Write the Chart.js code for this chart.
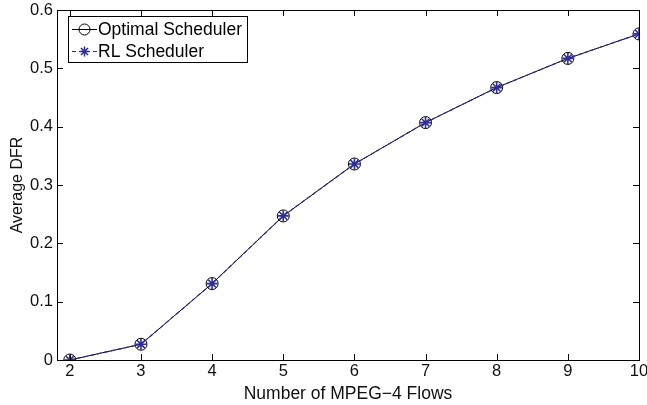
<!DOCTYPE html>
<html>
<head>
<meta charset="utf-8">
<script src="https://cdn.jsdelivr.net/npm/chart.js@4/dist/chart.umd.min.js"></script>
<style>
  html, body { margin: 0; padding: 0; background: #fff; }
  #wrap { width: 647px; height: 405px; }
</style>
</head>
<body>
<div id="wrap"><canvas id="dfrChart" width="647" height="405"></canvas></div>
<script>
// flows on the x axis
var flows = [2, 3, 4, 5, 6, 7, 8, 9, 10];
// average DFR
var optimalDfr = [0, 0.027, 0.131, 0.247, 0.336, 0.407, 0.467, 0.517, 0.559];
var rlDfr = [0, 0.027, 0.131, 0.247, 0.336, 0.407, 0.467, 0.517, 0.559];
var xTicks = [2, 3, 4, 5, 6, 7, 8, 9, 10];
var yTicks = [0, 0.1, 0.2, 0.3, 0.4, 0.5, 0.6];
var seriesNames = ['Optimal Scheduler', 'RL Scheduler'];

var FONT = '"Liberation Sans", Arial, Helvetica, sans-serif';
var BLUE = '#2b2e98';

function toPoints(xs, ys) {
  return xs.map(function (x, i) { return { x: x, y: ys[i] }; });
}

// matlab style box with ticks pointing inwards
var boxTicks = {
  id: 'boxTicks',
  afterDraw: function (chart) {
    var ctx = chart.ctx;
    var a = chart.chartArea;
    var xs = chart.scales.x;
    var ys = chart.scales.y;
    var len = 6;
    ctx.save();
    ctx.strokeStyle = '#000';
    ctx.lineWidth = 1;
    ctx.beginPath();
    xTicks.forEach(function (v) {
      var px = Math.round(xs.getPixelForValue(v)) + 0.5;
      ctx.moveTo(px, a.bottom); ctx.lineTo(px, a.bottom - len);
      ctx.moveTo(px, a.top); ctx.lineTo(px, a.top + len);
    });
    yTicks.forEach(function (v) {
      var py = Math.round(ys.getPixelForValue(v)) + 0.5;
      ctx.moveTo(a.left, py); ctx.lineTo(a.left + len, py);
      ctx.moveTo(a.right, py); ctx.lineTo(a.right - len, py);
    });
    ctx.stroke();
    ctx.strokeRect(Math.round(a.left) + 0.5, Math.round(a.top) + 0.5,
      Math.round(a.right - a.left), Math.round(a.bottom - a.top));
    ctx.restore();
  }
};

// legend box in the top left corner, line + marker samples
var boxLegend = {
  id: 'boxLegend',
  afterDraw: function (chart) {
    var ctx = chart.ctx;
    var a = chart.chartArea;
    var x0 = a.left + 11;
    var y0 = a.top + 6;
    var w = 179;
    var h = 46;
    ctx.save();
    ctx.fillStyle = '#fff';
    ctx.fillRect(x0, y0, w, h);
    ctx.strokeStyle = '#000';
    ctx.lineWidth = 1;
    ctx.strokeRect(x0 + 0.5, y0 + 0.5, w, h);
    ctx.font = '17.5px ' + FONT;
    ctx.textBaseline = 'middle';
    ctx.fillStyle = '#000';

    var rows = [y0 + 13.5, y0 + 35.5];
    var lx1 = x0 + 4, lx2 = x0 + 29, mx = x0 + 16.5;

    // optimal: solid black line with open circle
    ctx.beginPath();
    ctx.moveTo(lx1, rows[0]); ctx.lineTo(lx2, rows[0]);
    ctx.stroke();
    ctx.beginPath();
    ctx.arc(mx, rows[0], 5.5, 0, Math.PI * 2);
    ctx.stroke();
    ctx.fillText(seriesNames[0], x0 + 30, rows[0] + 1);

    // rl: dashed blue line with star
    ctx.strokeStyle = BLUE;
    ctx.setLineDash([4, 3]);
    ctx.beginPath();
    ctx.moveTo(lx1, rows[1]); ctx.lineTo(lx2, rows[1]);
    ctx.stroke();
    ctx.setLineDash([]);
    ctx.lineWidth = 1.5;
    ctx.beginPath();
    for (var k = 0; k < 4; k++) {
      var ang = k * Math.PI / 4;
      ctx.moveTo(mx - 5 * Math.cos(ang), rows[1] - 5 * Math.sin(ang));
      ctx.lineTo(mx + 5 * Math.cos(ang), rows[1] + 5 * Math.sin(ang));
    }
    ctx.stroke();
    ctx.fillStyle = '#000';
    ctx.fillText(seriesNames[1], x0 + 30, rows[1] + 1);
    ctx.restore();
  }
};

Chart.defaults.font.family = FONT;
Chart.defaults.font.size = 16.5;
Chart.defaults.color = '#111';

new Chart(document.getElementById('dfrChart').getContext('2d'), {
  type: 'line',
  data: {
    datasets: [
      {
        label: seriesNames[1],
        data: toPoints(flows, rlDfr),
        borderColor: BLUE,
        backgroundColor: BLUE,
        borderWidth: 1.2,
        borderDash: [4, 3],
        pointStyle: 'star',
        pointRadius: 5.5,
        pointBorderWidth: 1.6,
        pointBorderColor: BLUE,
        tension: 0,
        order: 1
      },
      {
        label: seriesNames[0],
        data: toPoints(flows, optimalDfr),
        borderColor: '#000',
        borderWidth: 1,
        pointStyle: 'circle',
        pointRadius: 6,
        pointBorderWidth: 1,
        pointBorderColor: '#000',
        pointBackgroundColor: 'rgba(255,255,255,0)',
        tension: 0,
        order: 2
      }
    ]
  },
  options: {
    responsive: false,
    animation: false,
    events: [],
    layout: { padding: { top: 10, right: 8, left: 0, bottom: 0 } },
    plugins: {
      legend: { display: false },
      tooltip: { enabled: false }
    },
    scales: {
      x: {
        type: 'linear',
        min: 1.82,
        max: 10,
        grid: { display: false, drawTicks: false },
        border: { display: false },
        afterBuildTicks: function (scale) {
          scale.ticks = xTicks.map(function (v) { return { value: v }; });
        },
        afterFit: function (scale) {
          scale.height = 45;
          scale.paddingLeft = 0;
          scale.paddingRight = 0;
        },
        ticks: {
          padding: 2,
          maxRotation: 0,
          autoSkip: false,
          callback: function (v) { return String(v); }
        },
        title: {
          display: true,
          text: 'Number of MPEG\u22124 Flows',
          font: { size: 17.5 },
          padding: { top: 0, bottom: 0 }
        }
      },
      y: {
        min: 0,
        max: 0.6,
        grid: { display: false, drawTicks: false },
        border: { display: false },
        afterBuildTicks: function (scale) {
          scale.ticks = yTicks.map(function (v) { return { value: v }; });
        },
        afterFit: function (scale) {
          scale.width = 57;
          scale.paddingTop = 0;
          scale.paddingBottom = 0;
        },
        ticks: {
          padding: 4,
          autoSkip: false,
          callback: function (v) { return String(Number(v.toFixed(1))); }
        },
        title: {
          display: true,
          text: 'Average DFR',
          font: { size: 16 },
          padding: { top: 8, bottom: 0 }
        }
      }
    }
  },
  plugins: [boxTicks, boxLegend]
});
</script>
</body>
</html>
